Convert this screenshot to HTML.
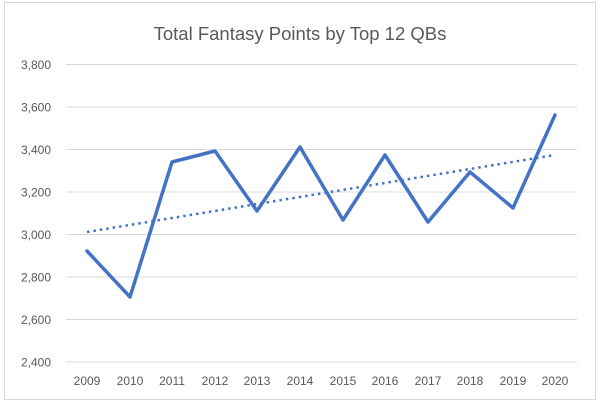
<!DOCTYPE html>
<html><head><style>body{margin:0;background:#fff}svg{display:block}</style></head><body>
<svg width="600" height="406" xmlns="http://www.w3.org/2000/svg" font-family="Liberation Sans, sans-serif">
<rect x="4.5" y="2.5" width="591" height="397" fill="#fff" stroke="#d9d9d9"/>
<text x="300" y="40" text-anchor="middle" font-size="18.5" fill="#595959">Total Fantasy Points by Top 12 QBs</text>
<g stroke="#d9d9d9" stroke-width="1">
<line x1="66" x2="577" y1="64.5" y2="64.5"/><line x1="66" x2="577" y1="107" y2="107"/>
<line x1="66" x2="577" y1="149.5" y2="149.5"/><line x1="66" x2="577" y1="192" y2="192"/>
<line x1="66" x2="577" y1="234.5" y2="234.5"/><line x1="66" x2="577" y1="277" y2="277"/>
<line x1="66" x2="577" y1="319.5" y2="319.5"/><line x1="66" x2="577" y1="362" y2="362"/>
</g>
<g font-size="12" fill="#595959" text-anchor="end">
<text x="51" y="69">3,800</text><text x="51" y="111.5">3,600</text><text x="51" y="154">3,400</text>
<text x="51" y="196.5">3,200</text><text x="51" y="239">3,000</text><text x="51" y="281.5">2,800</text>
<text x="51" y="324">2,600</text><text x="51" y="366.5">2,400</text>
</g>
<g font-size="12" fill="#595959" text-anchor="middle">
<text x="87" y="385">2009</text><text x="130" y="385">2010</text><text x="172" y="385">2011</text>
<text x="215" y="385">2012</text><text x="257" y="385">2013</text><text x="300" y="385">2014</text>
<text x="343" y="385">2015</text><text x="385" y="385">2016</text><text x="428" y="385">2017</text>
<text x="470" y="385">2018</text><text x="513" y="385">2019</text><text x="555" y="385">2020</text>
</g>
<line x1="87" y1="232" x2="555" y2="155" stroke="#4472c4" stroke-width="2.5" stroke-dasharray="2.5,4"/>
<polyline fill="none" stroke="#4472c4" stroke-width="3.5" stroke-linejoin="round" stroke-linecap="round"
points="87,251 130,297 172,162 215,151 257,211 300,147 343,220 385,155 428,222 470,172 513,208 555,115"/>
</svg>
</body></html>
